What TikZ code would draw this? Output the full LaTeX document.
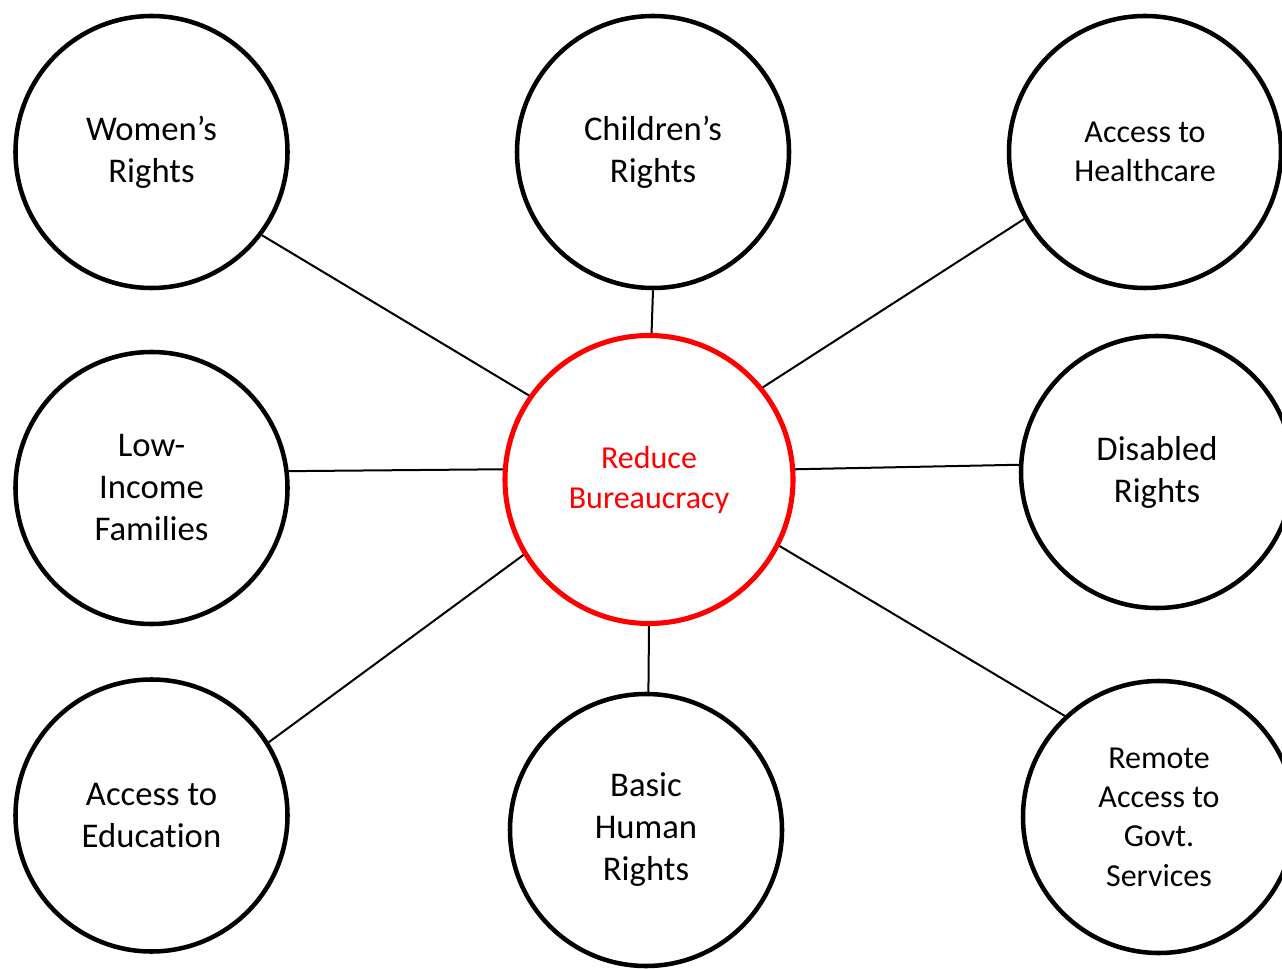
\documentclass[tikz,border=0pt]{standalone}
\usepackage{fontspec}
\setmainfont[Ligatures=NoCommon]{Carlito}
\begin{document}
\begin{tikzpicture}[x=0.75pt,y=-0.75pt,
  topic/.style={circle,draw=black,line width=3.4pt,minimum size=204pt,inner sep=0pt,
    align=center,font=\fontsize{26}{31.5}\selectfont,text=black},
  smalltopic/.style={topic,font=\fontsize{24}{29.5}\selectfont},
  hub/.style={circle,draw=red,line width=3.8pt,minimum size=216pt,inner sep=0pt,
    align=center,font=\fontsize{24}{30}\selectfont,text=red},
  link/.style={draw=black,line width=1.5pt}]
\useasboundingbox (0,0) rectangle (1282,969);
\node[hub] (c) at (649,479.5) {Reduce\\Bureaucracy};
\node[topic] (w) at (151.5,152) {Women’s\\Rights};
\node[topic] (ch) at (653,152) {Children’s\\Rights};
\node[smalltopic] (h) at (1145,152) {Access to\\Healthcare};
\node[topic] (l) at (151.5,488) {Low-\\Income\\Families};
\node[topic] (d) at (1157,472) {Disabled\\Rights};
\node[topic] (e) at (151.5,815.5) {Access to\\Education};
\node[topic] (b) at (646,830) {Basic\\Human\\Rights};
\node[smalltopic] (r) at (1159,817) {Remote\\Access to\\Govt.\\Services};
\draw[link] (w.-37.3) -- (c.145);
\draw[link] (ch.-90.8) -- (c.89.2);
\draw[link] (h.209.3) -- (c.39.1);
\draw[link] (l.7) -- (c.176.7);
\draw[link] (d.177.9) -- (c.4.1);
\draw[link] (e.32.2) -- (c.211.8);
\draw[link] (b.89.6) -- (c.-90.8);
\draw[link] (r.133.8) -- (c.-27.6);
\end{tikzpicture}
\end{document}
